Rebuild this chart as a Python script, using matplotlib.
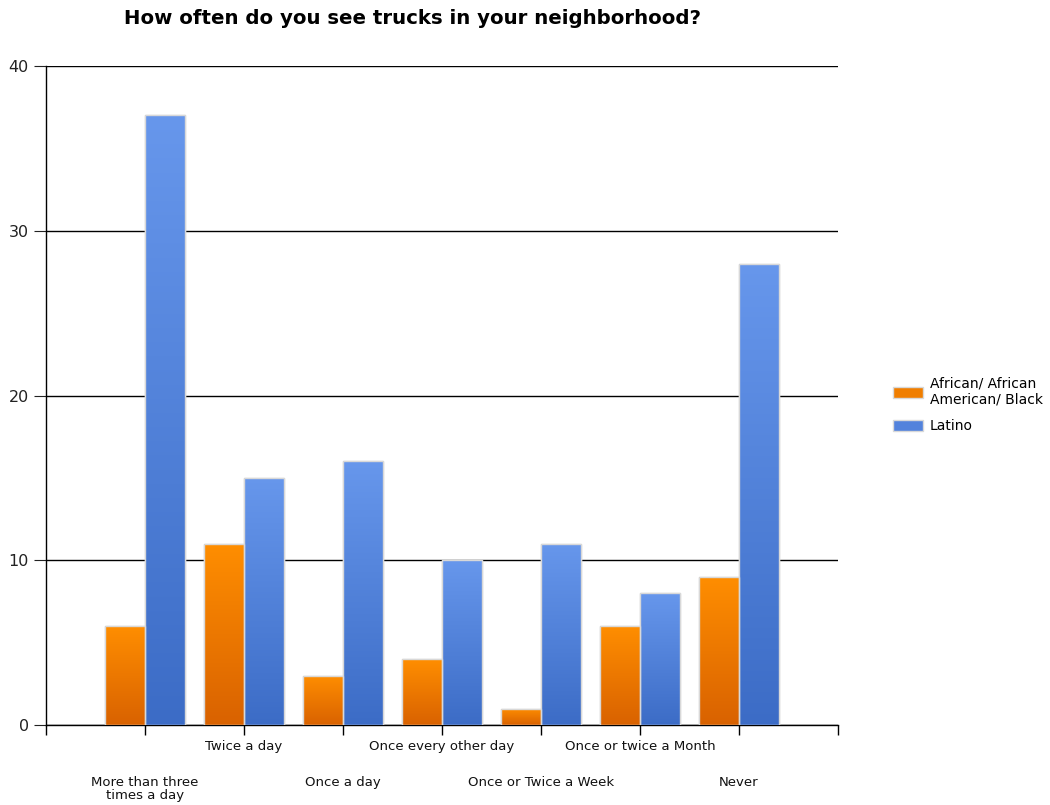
import numpy as np
import matplotlib
matplotlib.use("Agg")
import matplotlib.pyplot as plt
from matplotlib.colors import LinearSegmentedColormap
from matplotlib.patches import Patch

categories = ["More than three\ntimes a day", "Twice a day", "Once a day",
              "Once every other day", "Once or Twice a Week",
              "Once or twice a Month", "Never"]
african = [6, 11, 3, 4, 1, 6, 9]
latino = [37, 15, 16, 10, 11, 8, 28]
series_names = ["African/ African\nAmerican/ Black", "Latino"]

fig = plt.figure(figsize=(10.5, 8.05), dpi=100)
ax = fig.add_axes([46/1050, 1-725/805, (838-46)/1050, (725-66)/805])

x = np.arange(1, len(categories)+1)
w = 0.4
cmap_o = LinearSegmentedColormap.from_list("o", ["#D96200", "#FF8E00"])
cmap_b = LinearSegmentedColormap.from_list("b", ["#3C6CC6", "#6797EC"])
grad = np.linspace(0, 1, 256).reshape(-1, 1)

for vals, off, cm, col in [(african, -w/2, cmap_o, "#F07E00"), (latino, w/2, cmap_b, "#5282DC")]:
    bars = ax.bar(x+off, vals, width=w, color=col, edgecolor="#D8D8D8", linewidth=1.0, zorder=3)
    for b in bars:
        x0, y0 = b.get_x(), b.get_y()
        im = ax.imshow(grad, cmap=cm, origin="lower", aspect="auto",
                       extent=[x0, x0+b.get_width(), y0, y0+b.get_height()], zorder=3.5)
        im.set_clip_path(b)
        b2 = plt.Rectangle((x0, y0), b.get_width(), b.get_height(), fill=False,
                           edgecolor="#D8D8D8", linewidth=1.0, zorder=4)
        ax.add_patch(b2)

ax.set_xlim(0, 8)
ax.set_ylim(0, 40)
ax.set_yticks([0, 10, 20, 30, 40])
ax.yaxis.grid(True, color="black", linewidth=1.0, zorder=1)
ax.set_axisbelow(True)
for s in ["top", "right"]:
    ax.spines[s].set_visible(False)
ax.spines["left"].set_linewidth(1.0)
ax.spines["bottom"].set_linewidth(1.0)

ax.set_xticks(np.arange(0, 9))
ax.set_xticklabels([])
ax.tick_params(axis="x", length=7.5, width=1.0, direction="out")
ax.tick_params(axis="y", length=8.5, width=0.8, labelsize=11.5, pad=4, colors="#222222")
for i, (xi, lab) in enumerate(zip(x, categories)):
    ax.annotate(lab, xy=(xi, 0), xycoords=("data", "axes fraction"),
                xytext=(0, -36.5 if i % 2 == 0 else -10.5), textcoords="offset points",
                ha="center", va="top", fontsize=9.5, linespacing=1.0, color="#111111")

fig.text(412/1050, 1-18/805, "How often do you see trucks in your neighborhood?",
         ha="center", va="center", fontsize=14.2, fontweight="bold")

handles = [Patch(facecolor="#F07E00", edgecolor="#D8D8D8"),
           Patch(facecolor="#5282DC", edgecolor="#D8D8D8")]
fig.legend(handles, series_names, loc="center left", bbox_to_anchor=(880/1050, 1-405/805),
           frameon=False, fontsize=10.0, handlelength=2.2, handleheight=0.8,
           labelspacing=0.9, handletextpad=0.5)

fig.savefig("out.png", dpi=100)
